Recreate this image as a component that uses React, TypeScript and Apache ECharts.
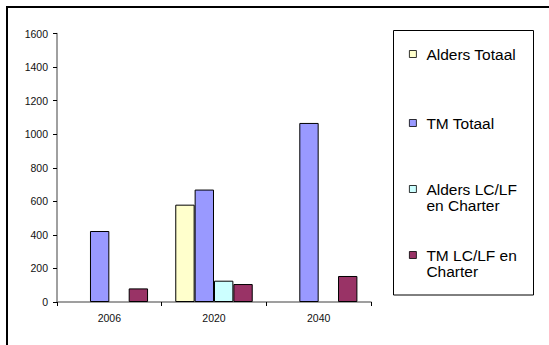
import React, { useEffect, useRef } from "react";
import * as echarts from "echarts";

// Years on the category axis
const years = ["2006", "2020", "2040"];

// Series names and values per year (null = no bar that year)
const seriesNames = ["Alders Totaal", "TM Totaal", "Alders LC/LF en Charter", "TM LC/LF en Charter"];
const aldersTotaal = [null, 580, null];
const tmTotaal = [423, 670, 1067];
const aldersLcLf = [null, 127, null];
const tmLcLf = [81, 107, 155];

// Value axis ticks
const yTicks = [0, 200, 400, 600, 800, 1000, 1200, 1400, 1600];

const seriesValues = [aldersTotaal, tmTotaal, aldersLcLf, tmLcLf];
const seriesColors = ["#FFFFCC", "#9999FF", "#CCFFFF", "#993366"];

// Legend labels wrapped onto two lines where the box is narrow
const legendLabels: Record<string, string[]> = {
  "Alders Totaal": ["Alders Totaal"],
  "TM Totaal": ["TM Totaal"],
  "Alders LC/LF en Charter": ["Alders LC/LF", "en Charter"],
  "TM LC/LF en Charter": ["TM LC/LF en", "Charter"],
};

const FONT = "'Liberation Sans', Arial, Helvetica, sans-serif";

export default function App() {
  const ref = useRef<HTMLDivElement>(null);

  useEffect(() => {
    if (!ref.current) return;
    const chart = echarts.init(ref.current, undefined, { renderer: "svg" });

    // A leading empty line keeps the marker level with the first text line
    const labelText = (n: string) => {
      const lines = legendLabels[n];
      return lines.length > 1 ? "\n" + lines.join("\n") : lines[0];
    };

    const legendTops = [46, 115, 165, 231];
    const legends = seriesNames.map((name, i) => ({
      show: true,
      orient: "vertical",
      left: 409,
      top: legendTops[i],
      padding: 0,
      data: [name],
      icon: "rect",
      itemWidth: 7,
      itemHeight: 7,
      selectedMode: false,
      itemStyle: { borderColor: "#000", borderWidth: 0.8 },
      formatter: labelText,
      textStyle: {
        fontFamily: FONT,
        fontSize: 15.5,
        lineHeight: 16,
        color: "#000",
        padding: [0, 0, 0, 5],
      },
    }));

    chart.setOption({
      animation: false,
      backgroundColor: "#fff",
      textStyle: { fontFamily: FONT },
      graphic: [
        {
          type: "rect",
          shape: { x: 7, y: 7, width: 700, height: 500 },
          style: { fill: "none", stroke: "#000", lineWidth: 2 },
          silent: true,
        },
        {
          type: "rect",
          shape: { x: 393.5, y: 30.5, width: 140, height: 264.5 },
          style: { fill: "none", stroke: "#000", lineWidth: 1 },
          silent: true,
        },
      ],
      legend: legends,
      grid: { left: 57, right: 178, top: 33.5, bottom: 43, containLabel: false },
      xAxis: {
        type: "category",
        data: years,
        axisLine: { lineStyle: { color: "#808080", width: 1.5 } },
        axisTick: { show: true, length: 4, lineStyle: { color: "#000" } },
        axisLabel: { color: "#111", fontSize: 10.5, margin: 10, fontFamily: FONT },
      },
      yAxis: {
        type: "value",
        min: yTicks[0],
        max: yTicks[yTicks.length - 1],
        interval: yTicks[1] - yTicks[0],
        splitLine: { show: false },
        axisLine: { show: true, lineStyle: { color: "#808080", width: 1.5 } },
        axisTick: { show: true, length: 4, lineStyle: { color: "#000" } },
        axisLabel: {
          color: "#111",
          fontSize: 10.5,
          margin: 9,
          fontFamily: FONT,
          formatter: (v: number) => String(v),
        },
      },
      series: seriesNames.map((name, i) => ({
        name,
        type: "bar",
        data: seriesValues[i],
        barGap: "0%",
        barCategoryGap: "26%",
        itemStyle: { color: seriesColors[i], borderColor: "#000", borderWidth: 1 },
      })),
    });

    return () => chart.dispose();
  }, []);

  return (
    <div
      ref={ref}
      style={{ position: "absolute", left: 0, top: 0, width: 549, height: 345, background: "#fff" }}
    />
  );
}
